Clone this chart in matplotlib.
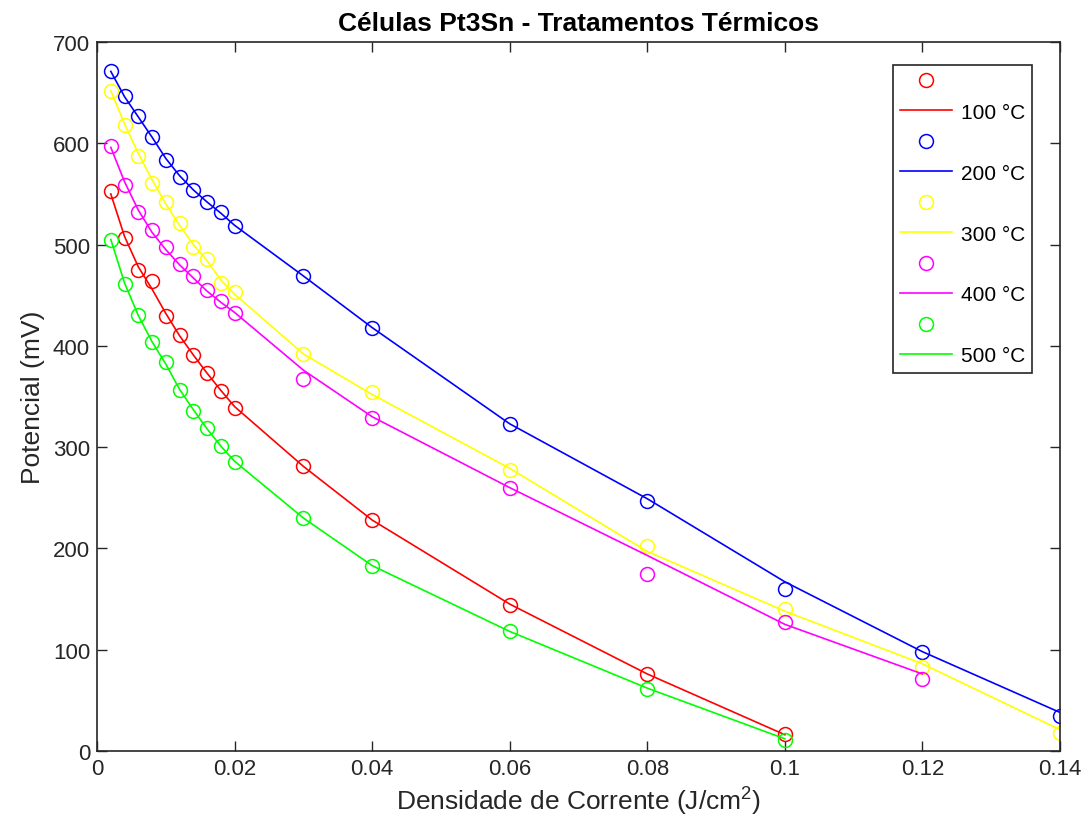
import numpy as np
import matplotlib.pyplot as plt
from matplotlib.lines import Line2D

plt.rcParams['font.family'] = ['Liberation Sans', 'DejaVu Sans']
plt.rcParams['mathtext.fontset'] = 'custom'
plt.rcParams['mathtext.rm'] = 'Liberation Sans'
plt.rcParams['mathtext.it'] = 'Liberation Sans'

# current density (J/cm2)
x_long = [0.002, 0.004, 0.006, 0.008, 0.010, 0.012, 0.014, 0.016, 0.018, 0.020,
          0.03, 0.04, 0.06, 0.08, 0.10, 0.12, 0.14]
x_100 = x_long[:15]
x_400 = x_long[:16]

# measured points (mV)
y100 = [553, 506, 475, 464, 429, 411, 391, 373, 355, 339, 281, 228, 144, 76, 17]
y200 = [671, 647, 627, 606, 584, 567, 554, 542, 532, 518, 469, 418, 323, 247, 160, 98, 35]
y300 = [652, 618, 587, 561, 542, 521, 498, 486, 462, 453, 392, 354, 277, 202, 140, 83, 18]
y400 = [597, 559, 532, 514, 498, 481, 469, 455, 444, 432, 367, 329, 260, 175, 127, 71]
y500 = [505, 461, 430, 404, 384, 356, 336, 319, 301, 285, 230, 183, 118, 61, 11]

# fitted curves (mV)
f100 = [550, 508, 478, 456, 432, 410, 391, 373, 356, 340, 281, 228, 145, 76, 16]
f200 = [671, 646, 626, 606, 585, 568, 554, 542, 531, 519, 469, 418, 323, 249, 167, 98, 38]
f300 = [652, 619, 590, 564, 540, 519, 500, 484, 465, 451, 392, 352, 279, 197, 138, 86, 21]
f400 = [596, 562, 534, 512, 495, 480, 467, 454, 443, 433, 376, 330, 260, 193, 125, 76]
f500 = [505, 462, 430, 404, 382, 357, 337, 318, 301, 286, 230, 183, 118, 62, 12]

labels = ['100 °C', '200 °C', '300 °C', '400 °C', '500 °C']
colors = ['#ff0000', '#0000ff', '#ffff00', '#ff00ff', '#00ff00']

xs = [x_100, x_long, x_long, x_400, x_100]
ys = [y100, y200, y300, y400, y500]
fs = [f100, f200, f300, f400, f500]

fig = plt.figure(figsize=(10.83, 8.37), dpi=100)
ax = fig.add_axes([0.0896, 0.1016, 0.8892, 0.847])

handles = []
names = []
for x, y, f, c, lab in zip(xs, ys, fs, colors, labels):
    ax.plot(x, f, '-', color=c, lw=1.2)
    ax.plot(x, y, 'o', mfc='none', mec=c, ms=10, mew=1.1)
    handles.append(Line2D([], [], ls='none', marker='o', mfc='none', mec=c, ms=10, mew=1.1))
    names.append('')
    handles.append(Line2D([], [], ls='-', color=c, lw=1.2))
    names.append(lab)

ax.set_xlim(0, 0.14)
ax.set_ylim(0, 700)
xt = [0, 0.02, 0.04, 0.06, 0.08, 0.1, 0.12, 0.14]
ax.set_xticks(xt)
ax.set_xticklabels(['0', '0.02', '0.04', '0.06', '0.08', '0.1', '0.12', '0.14'])
ax.set_yticks(range(0, 701, 100))
ax.tick_params(direction='in', top=True, right=True, length=7, width=1,
               labelsize=16, colors='#262626', pad=5)
for s in ax.spines.values():
    s.set_color('#262626')
    s.set_linewidth(1.2)

ax.set_xlabel('Densidade de Corrente (J/cm$^2$)', fontsize=19, color='#262626', labelpad=4)
ax.set_ylabel('Potencial (mV)', fontsize=19, color='#262626', labelpad=6)
ax.set_title('Células Pt3Sn - Tratamentos Térmicos', fontsize=19, fontweight='bold',
             color='black', pad=9)

leg = ax.legend(handles, names, loc='upper right', bbox_to_anchor=(0.971, 0.9676),
                fontsize=15, handlelength=2.5, labelspacing=0.55, fancybox=False,
                framealpha=1, edgecolor='#262626', borderpad=0.35, handletextpad=0.4,
                borderaxespad=0)
leg.get_frame().set_linewidth(1.2)

fig.savefig('out.png', dpi=100)
